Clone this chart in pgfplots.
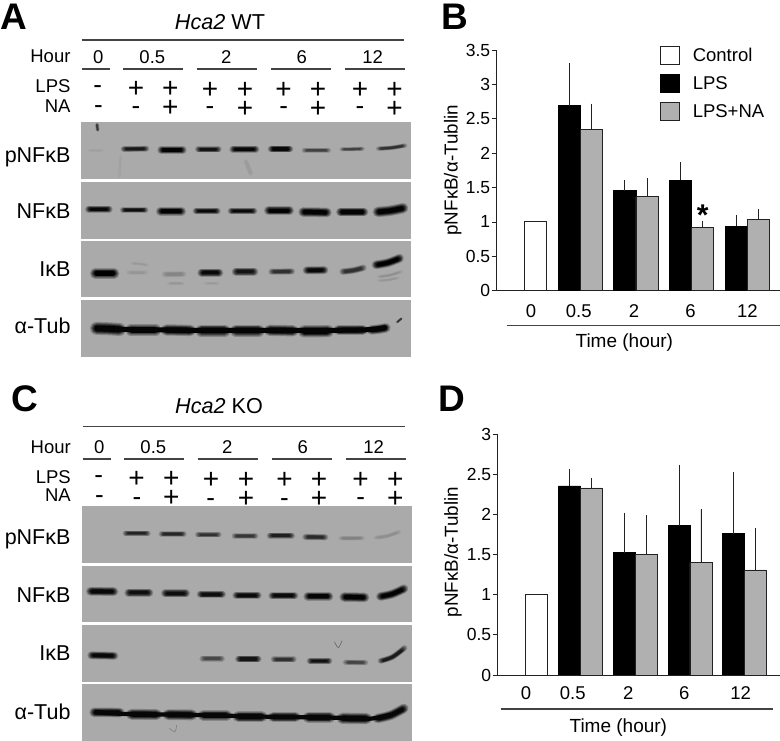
\documentclass[border=0pt]{standalone}
\usepackage{pgfplots}
\pgfplotsset{compat=1.18}
\usepackage{fontspec}
\setmainfont{Liberation Sans}
\definecolor{blotbg}{HTML}{AAAAAA}
\definecolor{ink}{HTML}{222222}
\definecolor{barna}{HTML}{B0B0B0}
\newcommand\fs[1]{\fontsize{#1}{#1}\selectfont}
\newcommand\lbl[5]{\node[anchor=#3,inner sep=0pt,font=\fs{#4},text=black] at (axis cs:#1,#2) {#5};}
\newcommand\rul[3]{\addplot[color=ink!85,line width=1.1pt,line cap=butt] coordinates {(#1,#3)(#2,#3)};}
\newcommand\panel[4]{\addplot[draw=none,fill=blotbg,forget plot] coordinates {(#1,#3)(#2,#3)(#2,#4)(#1,#4)} -- cycle;}
% one layer: x1 y1 x2 y2 | width-in-zoom-units factor extra-inset level
\newcommand\layer[7]{%
 \pgfmathsetmacro\bL{#3-#1}%
 \pgfmathsetmacro\be{min(0.42*\bL,#5*#6/2+#7)}%
 \pgfmathsetmacro\ta{\be/\bL}\pgfmathsetmacro\tb{1-\ta}%
 \pgfmathsetmacro\bxa{#1+\ta*\bL}\pgfmathsetmacro\bxb{#1+\tb*\bL}\pgfmathsetmacro\bxm{#1+0.5*\bL}%
 \pgfmathsetmacro\bya{#2+(#4-#2)*\ta*\ta}\pgfmathsetmacro\byb{#2+(#4-#2)*\tb*\tb}\pgfmathsetmacro\bym{#2+(#4-#2)*0.25}%
}
% x1 y1 x2 y2 thickness level
\newcommand\band[6]{%
 \layer{#1}{#2}{#3}{#4}{#5}{1.3}{0}%
 \addplot[smooth,line cap=round,line width={#5*1.3/3*1pt},color=black!\the\numexpr#6*22/100\relax!blotbg] coordinates {(\bxa,\bya)(\bxm,\bym)(\bxb,\byb)};
 \layer{#1}{#2}{#3}{#4}{#5}{1.1}{3}%
 \addplot[smooth,line cap=round,line width={#5*1.1/3*1pt},color=black!\the\numexpr#6*42/100\relax!blotbg] coordinates {(\bxa,\bya)(\bxm,\bym)(\bxb,\byb)};
 \layer{#1}{#2}{#3}{#4}{#5}{0.95}{6}%
 \addplot[smooth,line cap=round,line width={#5*0.95/3*1pt},color=black!\the\numexpr#6*62/100\relax!blotbg] coordinates {(\bxa,\bya)(\bxm,\bym)(\bxb,\byb)};
 \layer{#1}{#2}{#3}{#4}{#5}{0.78}{9}%
 \addplot[smooth,line cap=round,line width={#5*0.78/3*1pt},color=black!\the\numexpr#6*82/100\relax!blotbg] coordinates {(\bxa,\bya)(\bxm,\bym)(\bxb,\byb)};
 \layer{#1}{#2}{#3}{#4}{#5}{0.58}{13}%
 \addplot[smooth,line cap=round,line width={#5*0.58/3*1pt},color=black!#6!blotbg] coordinates {(\bxa,\bya)(\bxm,\bym)(\bxb,\byb)};
}
% small mark: x1 y1 x2 y2 width(pt) level
\newcommand\speck[6]{%
 \addplot[line cap=round,line width=#5*1.6pt,color=black!\the\numexpr#6*40/100\relax!blotbg] coordinates {(#1,#2)(#3,#4)};
 \addplot[line cap=round,line width=#5*1pt,color=black!#6!blotbg] coordinates {(#1,#2)(#3,#4)};
}
\pgfplotsset{
 canvas/.style={scale only axis,hide axis,xmin=0,xmax=2340,ymin=0,y dir=reverse,width=780pt,clip=false},
 swatch/.style={legend image code/.code={\draw[##1] (0pt,-9pt) rectangle (19pt,9pt);}},
 bars/.style={scale only axis,axis x line=bottom,axis y line=left,
  axis line style={-,color=ink,line width=0.9pt},
  ybar,bar shift=0pt,ymin=0,
  tick align=outside,major tick length=5pt,
  ytick style={color=ink,line width=0.8pt},xtick style={draw=none},
  /pgf/number format/assume math mode=true,
  yticklabel style={font=\fs{17.5},text=black,xshift=2pt},
  xticklabels={0,0.5,2,6,12},
  ylabel={pNFκB/α-Tublin},
  every axis plot/.append style={line width=0.9pt},
  error bars/y dir=plus,error bars/y explicit,
  error bars/error mark=none,
  error bars/error bar style={color=ink,line width=0.9pt}},
 ctl/.style={fill=white,draw=ink,swatch},
 lps/.style={fill=black,draw=black,swatch},
 lna/.style={fill=barna,draw=ink,swatch},
}
\begin{document}
\begin{tikzpicture}
\useasboundingbox (0,0) rectangle (780pt,741pt);
% ---- Panel A + top text
\begin{axis}[canvas,at={(0pt,371pt)},anchor=south west,height=370pt,ymax=1110]
\lbl{0}{88}{base west}{37}{\bfseries A}
\lbl{1325}{88}{base west}{37}{\bfseries B}
\lbl{660}{90}{base}{21.6}{\itshape Hca2\upshape{} WT}
\rul{245}{1212}{120}
\lbl{212}{188}{base east}{18.5}{Hour}
\lbl{212}{278}{base east}{18.5}{LPS}
\lbl{212}{337}{base east}{18.5}{NA}
\lbl{295}{192}{base}{18.5}{0}\lbl{457}{192}{base}{18.5}{0.5}\lbl{679}{192}{base}{18.5}{2}\lbl{905}{192}{base}{18.5}{6}\lbl{1118}{192}{base}{18.5}{12}
\rul{247}{330}{207}\rul{370}{550}{207}\rul{591}{771}{207}\rul{813}{993}{207}\rul{1035}{1215}{207}
\lbl{293}{282}{base}{26}{-}\lbl{408}{294}{base}{28}{+}\lbl{511}{294}{base}{28}{+}\lbl{630}{296}{base}{28}{+}\lbl{735}{296}{base}{28}{+}\lbl{851}{296}{base}{28}{+}\lbl{954}{296}{base}{28}{+}\lbl{1080}{296}{base}{28}{+}\lbl{1184}{296}{base}{28}{+}
\lbl{295}{342}{base}{26}{-}\lbl{408}{345}{base}{26}{-}\lbl{511}{350}{base}{28}{+}\lbl{630}{345}{base}{26}{-}\lbl{735}{354}{base}{28}{+}\lbl{851}{345}{base}{26}{-}\lbl{954}{354}{base}{28}{+}\lbl{1080}{345}{base}{26}{-}\lbl{1184}{354}{base}{28}{+}
\lbl{212}{487}{base east}{21.5}{pNFκB}
\lbl{212}{655}{base east}{21.5}{NFκB}
\lbl{212}{829}{base east}{21.5}{IκB}
\lbl{212}{1002}{base east}{21.5}{α-Tub}
\panel{243}{1232}{367}{538}\panel{243}{1232}{546}{716}\panel{243}{1232}{723}{892}\panel{243}{1232}{901}{1072}
% pNFkB
\band{262}{451}{312}{451}{8}{6}
\band{362}{447}{448}{446}{13}{85}\band{472}{450}{560}{450}{17}{98}\band{585}{448}{665}{448}{14}{88}
\band{688}{448}{778}{448}{16}{96}\band{803}{447}{880}{447}{16}{95}\band{905}{451}{993}{451}{11}{62}
\band{1018}{448}{1095}{446}{9}{62}\band{1128}{446}{1222}{435}{10}{72}
\speck{291}{374}{293}{390}{2.2}{65}\speck{738}{485}{752}{520}{3}{9}\speck{362}{470}{358}{530}{2}{5}
% NFkB
\band{255}{628}{338}{628}{16}{95}\band{360}{630}{445}{630}{12}{92}\band{468}{634}{558}{634}{20}{98}
\band{578}{633}{662}{633}{15}{95}\band{683}{633}{772}{633}{15}{95}\band{792}{632}{882}{632}{20}{98}
\band{895}{636}{995}{638}{22}{98}\band{1008}{636}{1105}{636}{20}{98}\band{1118}{636}{1225}{620}{24}{98}
% IkB
\band{270}{820}{358}{820}{24}{100}
\band{378}{818}{445}{818}{10}{12}\band{390}{790}{448}{797}{6}{10}\band{485}{823}{560}{822}{13}{22}\band{500}{850}{555}{850}{8}{12}
\band{592}{818}{670}{818}{19}{95}\band{610}{850}{660}{850}{7}{10}\band{695}{815}{775}{815}{18}{88}
\band{805}{815}{885}{814}{14}{72}\band{908}{811}{985}{810}{18}{95}
\band{1018}{815}{1100}{800}{15}{72}\band{1115}{795}{1212}{768}{20}{100}
\band{1130}{830}{1210}{812}{7}{15}\band{1130}{842}{1200}{832}{6}{12}
% aTub
\band{270}{985}{378}{990}{30}{98}\band{376}{990}{484}{990}{26}{98}\band{482}{990}{588}{992}{26}{98}
\band{586}{992}{692}{992}{28}{98}\band{690}{992}{794}{992}{28}{98}\band{792}{991}{896}{993}{26}{98}
\band{894}{994}{1002}{993}{28}{98}\band{1000}{990}{1104}{990}{24}{98}\band{1100}{990}{1172}{980}{22}{96}
\addplot[smooth,line width=5pt,color=black!97!blotbg,line cap=round] coordinates {(295,986)(380,988)(590,991)(800,991)(1000,991)(1105,989)(1155,983)};
\speck{1192}{966}{1204}{956}{1.6}{70}
\end{axis}
% ---- Panel C + bottom text
\begin{axis}[canvas,at={(0pt,0pt)},anchor=south west,height=371pt,ymax=1113]
\lbl{33}{126}{base west}{37}{\bfseries C}
\lbl{1316}{126}{base west}{37}{\bfseries D}
\lbl{657}{130}{base}{21.6}{\itshape Hca2\upshape{} KO}
\rul{248}{1214}{170}
\lbl{213}{250}{base east}{18.5}{Hour}
\lbl{213}{340}{base east}{18.5}{LPS}
\lbl{213}{395}{base east}{18.5}{NA}
\lbl{298}{252}{base}{18.5}{0}\lbl{460}{252}{base}{18.5}{0.5}\lbl{682}{252}{base}{18.5}{2}\lbl{908}{252}{base}{18.5}{6}\lbl{1121}{252}{base}{18.5}{12}
\rul{248}{332}{267}\rul{372}{552}{267}\rul{593}{773}{267}\rul{815}{995}{267}\rul{1037}{1217}{267}
\lbl{296}{342}{base}{26}{-}\lbl{410}{354}{base}{28}{+}\lbl{514}{354}{base}{28}{+}\lbl{633}{356}{base}{28}{+}\lbl{738}{356}{base}{28}{+}\lbl{854}{356}{base}{28}{+}\lbl{957}{356}{base}{28}{+}\lbl{1082}{356}{base}{28}{+}\lbl{1186}{356}{base}{28}{+}
\lbl{298}{402}{base}{26}{-}\lbl{411}{407}{base}{26}{-}\lbl{514}{410}{base}{28}{+}\lbl{632}{409}{base}{26}{-}\lbl{738}{412}{base}{28}{+}\lbl{853}{409}{base}{26}{-}\lbl{957}{412}{base}{28}{+}\lbl{1082}{407}{base}{26}{-}\lbl{1186}{412}{base}{28}{+}
\lbl{212}{525}{base east}{21.5}{pNFκB}
\lbl{212}{697}{base east}{21.5}{NFκB}
\lbl{212}{873}{base east}{21.5}{IκB}
\lbl{212}{1048}{base east}{21.5}{α-Tub}
\panel{247}{1235}{407}{578}\panel{247}{1235}{587}{757}\panel{247}{1235}{765}{935}\panel{247}{1235}{943}{1113}
% pNFkB
\band{368}{490}{452}{490}{12}{80}\band{476}{492}{560}{492}{13}{78}\band{585}{494}{665}{494}{12}{72}
\band{695}{498}{775}{498}{12}{68}\band{800}{497}{885}{497}{14}{82}\band{907}{501}{985}{502}{14}{75}
\band{1015}{505}{1095}{504}{10}{24}\band{1120}{503}{1205}{482}{9}{16}
% NFkB
\band{258}{664}{355}{665}{20}{95}\band{373}{668}{460}{668}{18}{92}\band{483}{670}{570}{670}{18}{92}
\band{590}{673}{678}{673}{17}{92}\band{697}{676}{785}{676}{17}{94}\band{805}{677}{895}{677}{17}{94}
\band{910}{679}{1000}{679}{20}{97}\band{1018}{681}{1108}{683}{22}{98}\band{1128}{680}{1225}{648}{20}{98}
% IkB
\band{262}{856}{355}{858}{18}{95}
\band{598}{866}{675}{866}{14}{58}\band{705}{867}{785}{867}{16}{88}\band{812}{868}{890}{868}{14}{72}
\band{920}{873}{997}{873}{14}{90}\band{1028}{877}{1105}{878}{12}{60}\band{1133}{873}{1222}{825}{13}{85}
\addplot[smooth,color=black!40!blotbg,line width=0.6pt] coordinates {(1003,815)(1015,833)(1026,812)};
% aTub
\band{268}{1027}{374}{1028}{22}{96}\band{378}{1033}{486}{1034}{25}{96}\band{488}{1034}{592}{1035}{25}{96}
\band{594}{1036}{696}{1036}{24}{96}\band{698}{1040}{802}{1040}{26}{96}\band{804}{1041}{902}{1041}{24}{96}
\band{908}{1042}{1006}{1042}{26}{96}\band{1010}{1045}{1116}{1046}{26}{96}\band{1118}{1046}{1226}{1005}{22}{96}
\addplot[smooth,line width=4.2pt,color=black!96!blotbg,line cap=round] coordinates {(290,1027)(380,1032)(590,1035)(800,1040)(1000,1043)(1110,1046)(1170,1034)};
\addplot[smooth,color=black!25!blotbg,line width=0.6pt] coordinates {(508,1075)(525,1085)(530,1065)};
\end{axis}
% ---- Panel B
\begin{axis}[bars,at={(496.7pt,450.3pt)},anchor=south west,width=283.3pt,height=240.7pt,
 xmin=-0.502,xmax=4.587,ymax=3.5,bar width=22.3pt,
 ytick={0,0.5,1,1.5,2,2.5,3,3.5},
 xtick={0.114,0.971,1.965,2.98,4.0},
 xticklabel style={font=\fs{18.5},text=black,yshift=-5pt},
 ylabel style={at={(axis description cs:-0.155,0.5)},anchor=center,font=\fs{18.8},text=black},
 legend style={at={(rel axis cs:0.576,1.017)},anchor=north west,draw=none,fill=none,inner sep=0pt,outer sep=0pt,
  row sep=9.3pt,font=\fs{18.5},text=black,nodes={inner sep=0pt},/tikz/every odd column/.append style={column sep=13pt}},
 legend cell align=left]
\addplot[ctl] coordinates {(0.2,1.0)};
\addplot[lps] coordinates {(0.8,2.69) += (0,0.616) (1.8,1.454) += (0,0.156) (2.8,1.604) += (0,0.267) (3.8,0.936) += (0,0.164)};
\addplot[lna] coordinates {(1.2,2.346) += (0,0.374) (2.2,1.367) += (0,0.267) (3.2,0.916) += (0,0.097) (4.2,1.037) += (0,0.146)};
\legend{Control,LPS,LPS+NA}
\end{axis}
% ---- Panel D
\begin{axis}[bars,at={(497.7pt,66pt)},anchor=south west,width=282.3pt,height=240.7pt,
 xmin=-0.506,xmax=4.641,ymax=3,bar width=22pt,
 ytick={0,0.5,1,1.5,2,2.5,3},
 xtick={0.01,0.861,1.875,2.896,3.924},
 xticklabel style={font=\fs{18.5},text=black,yshift=-3pt},
 ylabel style={at={(axis description cs:-0.158,0.51)},anchor=center,font=\fs{18.8},text=black}]
\addplot[ctl] coordinates {(0.196,1.0)};
\addplot[lps] coordinates {(0.8,2.356) += (0,0.212) (1.8,1.525) += (0,0.499) (2.8,1.861) += (0,0.757) (3.8,1.758) += (0,0.768)};
\addplot[lna] coordinates {(1.2,2.331) += (0,0.125) (2.2,1.508) += (0,0.482) (3.2,1.404) += (0,0.661) (4.2,1.309) += (0,0.519)};
\end{axis}
% ---- rules and labels of B, D
\begin{axis}[canvas,at={(0pt,371pt)},anchor=south west,height=370pt,ymax=1110]
\rul{1520}{2340}{977}
\lbl{1873}{1044}{base}{19}{Time (hour)}
\lbl{2108}{678}{base}{30}{\bfseries *}
\end{axis}
\begin{axis}[canvas,at={(0pt,0pt)},anchor=south west,height=371pt,ymax=1113]
\rul{1502}{2320}{1017}
\lbl{1855}{1088}{base}{19}{Time (hour)}
\end{axis}
\end{tikzpicture}
\end{document}
